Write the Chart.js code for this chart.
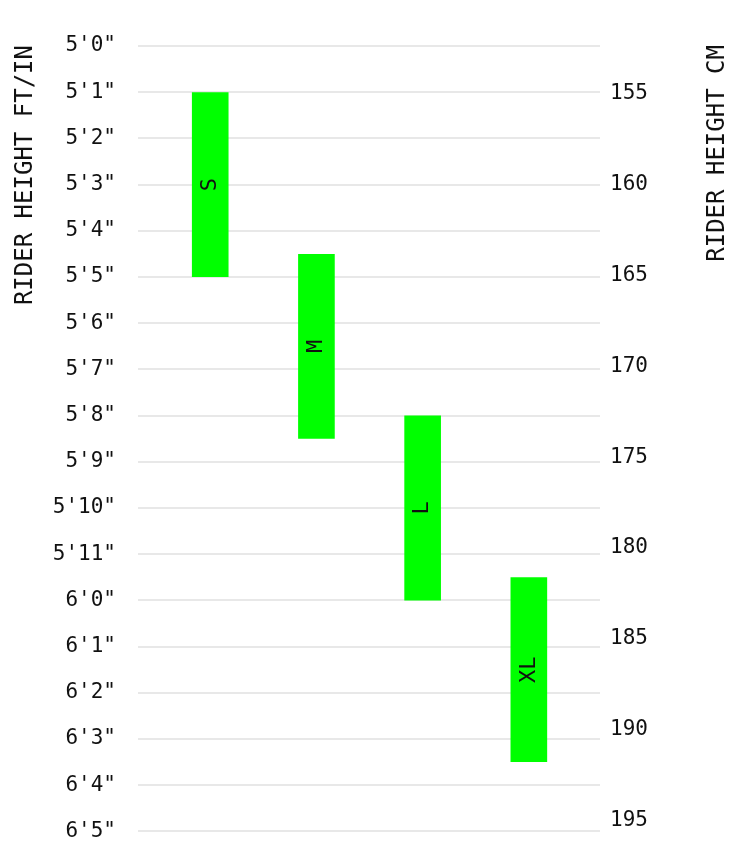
<!DOCTYPE html>
<html>
<head>
<meta charset="utf-8">
<script src="https://cdn.jsdelivr.net/npm/chart.js@4"></script>
<style>
  html, body { margin: 0; padding: 0; background: #fff; }
  #wrap { width: 739px; height: 866px; }
</style>
</head>
<body>
<div id="wrap"><canvas id="sizeChart"></canvas></div>
<script>
// sizes and rider height ranges in inches
const sizes = ['S', 'M', 'L', 'XL'];
const minInches = [61, 64.5, 68, 71.5];
const maxInches = [65, 68.5, 72, 75.5];
const cmTicks = [155, 160, 165, 170, 175, 180, 185, 190, 195];

const FONT = '"DejaVu Sans Mono", "Liberation Mono", monospace';

function ftIn(v) {
  return Math.floor(v / 12) + "'" + (v % 12) + '"';
}

// sideways labels in the bars and both axis titles
const labelPlugin = {
  id: 'labels',
  afterDatasetsDraw(chart) {
    const c = chart.ctx;
    const meta = chart.getDatasetMeta(0);
    c.save();
    c.fillStyle = '#111';
    c.font = '22px ' + FONT;
    c.textAlign = 'center';
    c.textBaseline = 'middle';
    meta.data.forEach((bar, i) => {
      const y = (bar.y + bar.base) / 2;
      c.save();
      c.translate(bar.x, y);
      c.rotate(-Math.PI / 2);
      c.fillText(sizes[i], 0, 0);
      c.restore();
    });
    c.font = '24px ' + FONT;
    c.textAlign = 'right';
    [[26, 'RIDER HEIGHT FT/IN'], [718, 'RIDER HEIGHT CM']].forEach(([x, t]) => {
      c.save();
      c.translate(x, 45);
      c.rotate(-Math.PI / 2);
      c.fillText(t, 0, 0);
      c.restore();
    });
    c.restore();
  }
};

new Chart(document.getElementById('sizeChart'), {
  type: 'bar',
  data: {
    datasets: [{
      data: sizes.map((s, i) => ({ x: i, y: [minInches[i], maxInches[i]] })),
      backgroundColor: '#00ff00',
      borderSkipped: false,
      barPercentage: 0.69,
      categoryPercentage: 1,
      yAxisID: 'y'
    }]
  },
  options: {
    responsive: true,
    maintainAspectRatio: false,
    animation: false,
    layout: { padding: { top: 46, bottom: 25 } },
    plugins: { legend: { display: false }, tooltip: { enabled: false } },
    scales: {
      x: { type: 'linear', display: false, min: -0.68, max: 3.67, offset: false },
      y: {
        position: 'left',
        reverse: true,
        min: 60,
        max: 77,
        afterFit(s) { s.width = 138; },
        afterBuildTicks(s) {
          s.ticks = [];
          for (let v = 60; v <= 77; v++) s.ticks.push({ value: v });
        },
        border: { display: false },
        grid: { color: '#e8e8e8', lineWidth: 2, drawTicks: false },
        ticks: {
          padding: 22,
          color: '#111',
          font: { family: FONT, size: 21 },
          callback: v => ftIn(v)
        }
      },
      cm: {
        position: 'right',
        reverse: true,
        min: 60 * 2.54,
        max: 77 * 2.54,
        afterFit(s) { s.width = 139; },
        afterBuildTicks(s) { s.ticks = cmTicks.map(v => ({ value: v })); },
        border: { display: false },
        grid: { display: false, drawTicks: false },
        ticks: {
          padding: 10,
          color: '#111',
          font: { family: FONT, size: 21 }
        }
      }
    }
  },
  plugins: [labelPlugin]
});
</script>
</body>
</html>
